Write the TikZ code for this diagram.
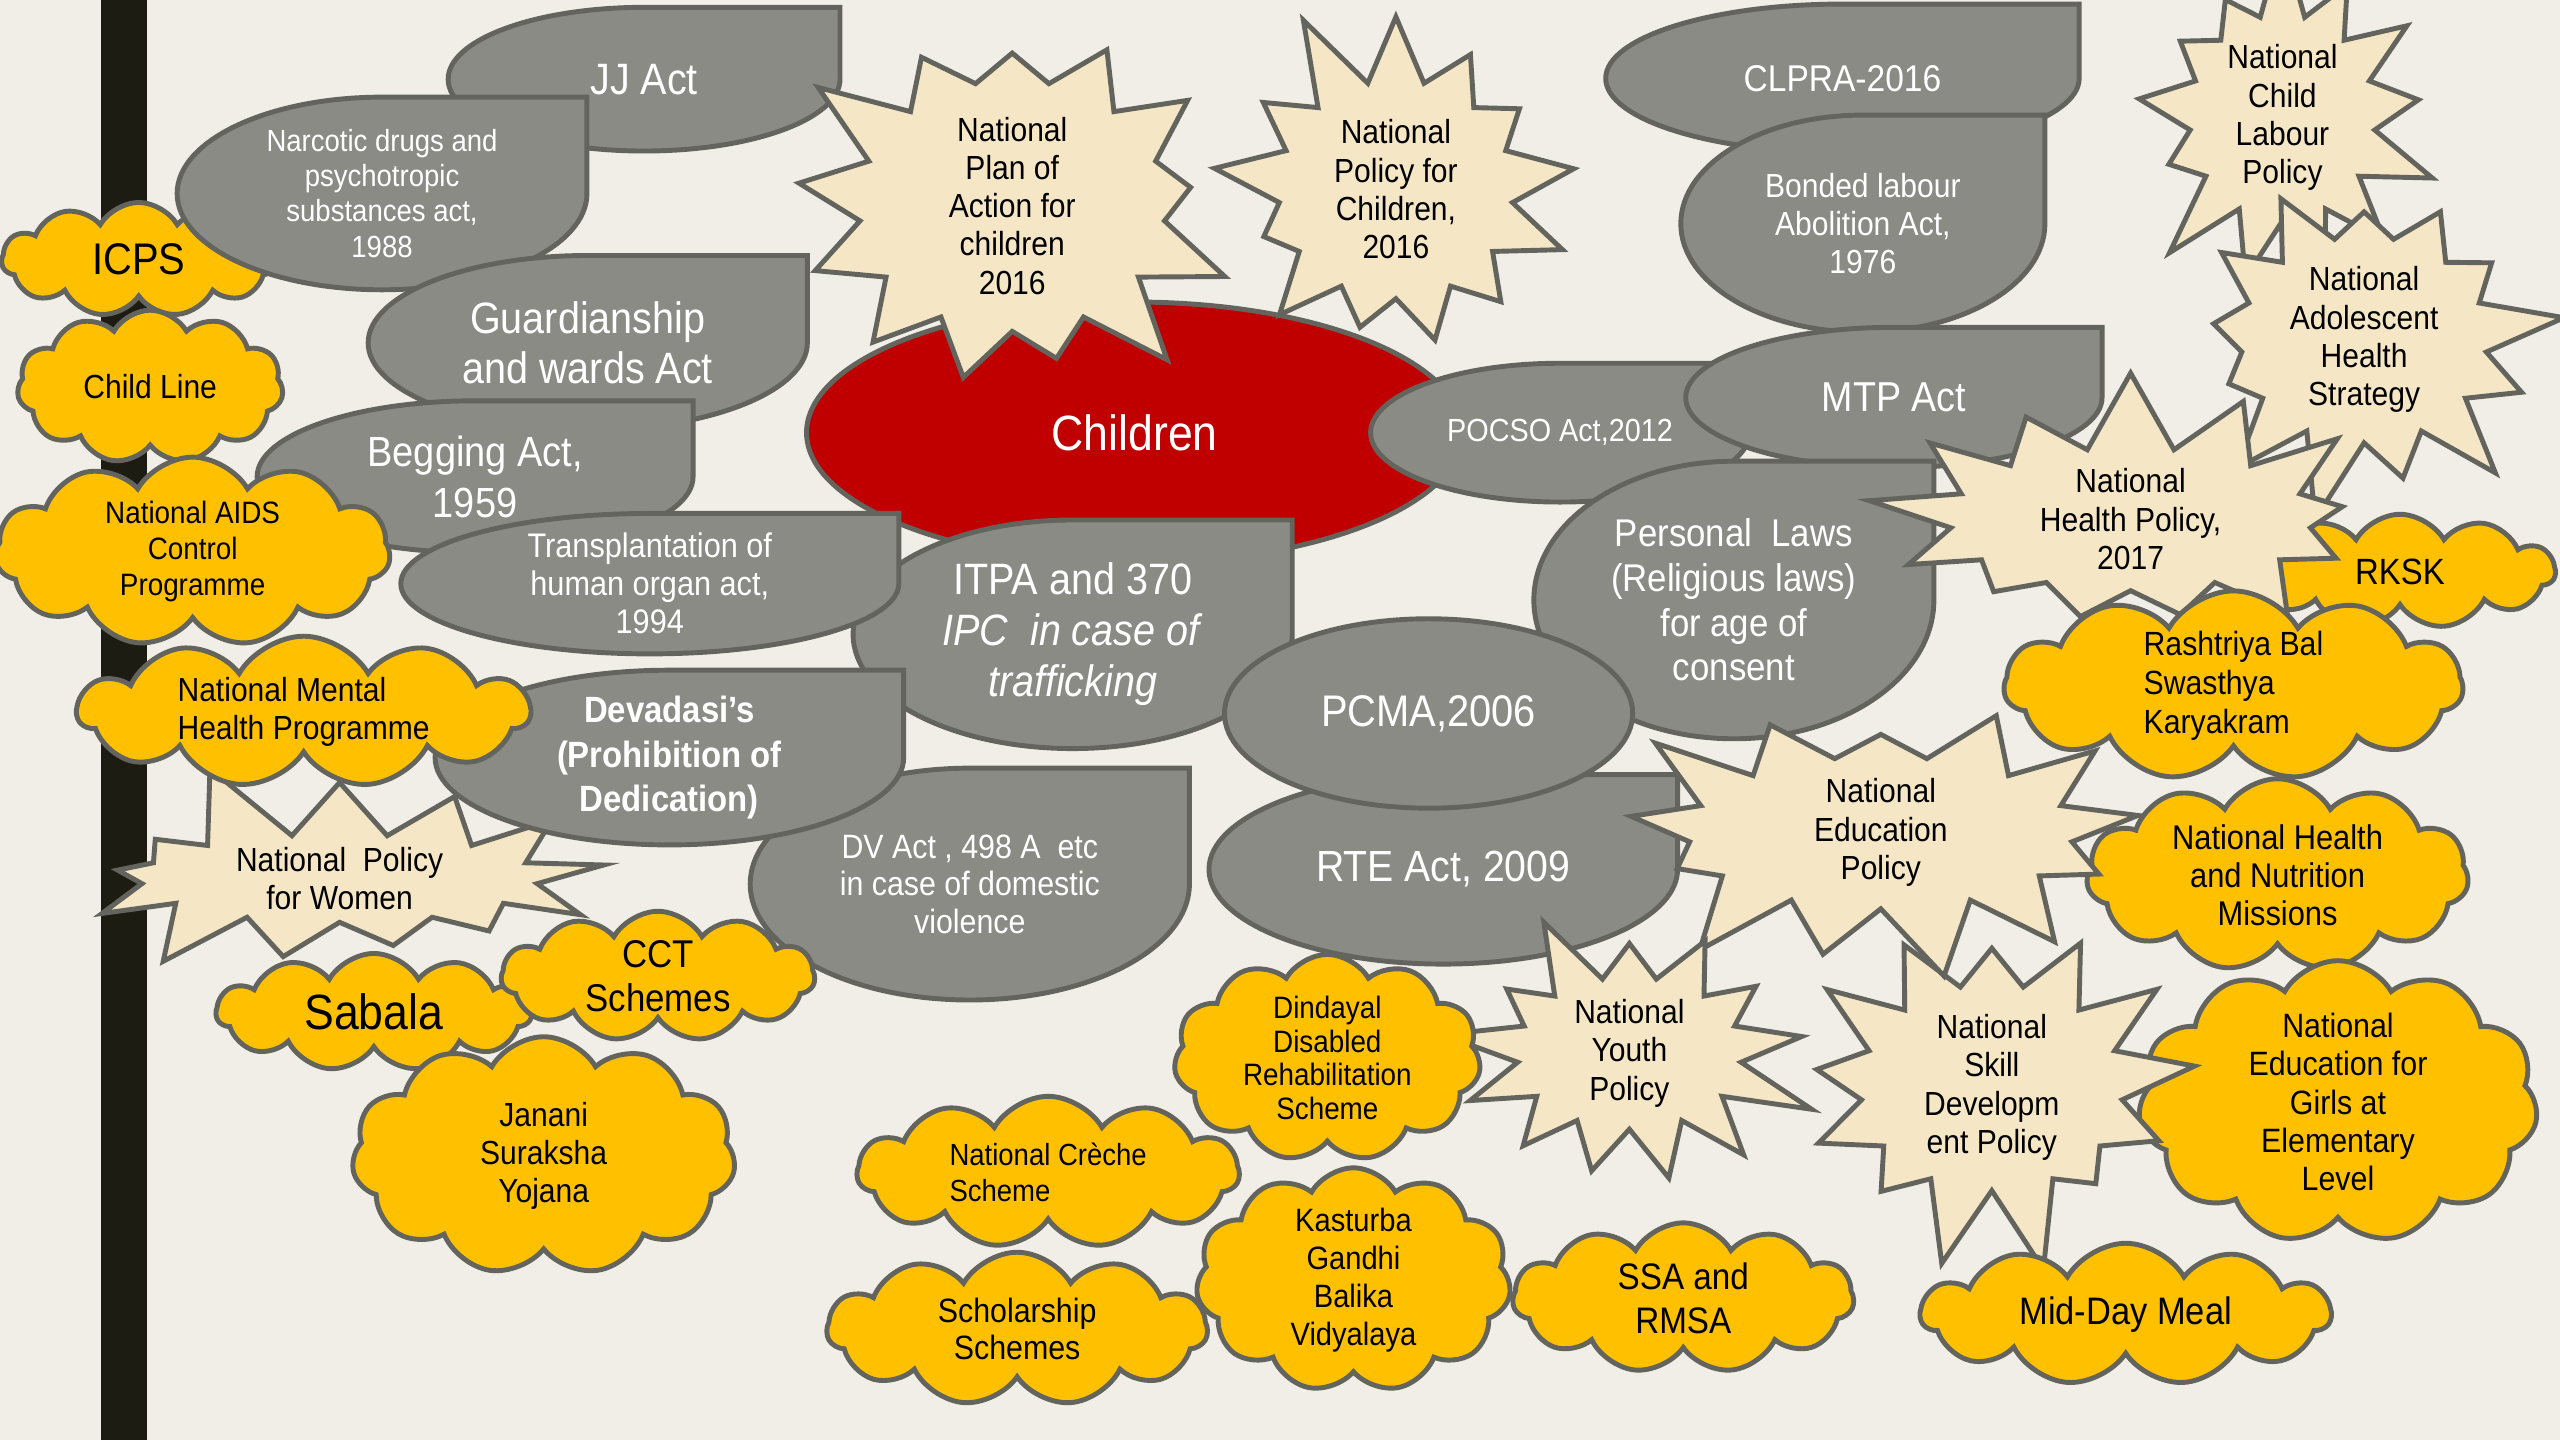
\documentclass[tikz,border=0pt]{standalone}
\usepackage{fontspec}
\setmainfont{Liberation Sans}[FakeStretch=0.9]
\usetikzlibrary{shapes.symbols, shapes.geometric}

\definecolor{bgpaper}{RGB}{240,238,230}
\definecolor{actgray}{RGB}{138,139,133}
\definecolor{rimgray}{RGB}{99,100,94}
\definecolor{schemeyellow}{RGB}{255,192,0}
\definecolor{policycream}{RGB}{245,231,197}
\definecolor{childred}{RGB}{192,0,0}
\definecolor{barblack}{RGB}{28,28,18}

\def\unitpx{0.0163265cm}

% act shape: ellipse with a square top right corner
\makeatletter
\pgfdeclareshape{teardrop}{%
  \inheritsavedanchors[from=rectangle]%
  \inheritanchorborder[from=rectangle]%
  \inheritanchor[from=rectangle]{center}%
  \inheritanchor[from=rectangle]{north}%
  \inheritanchor[from=rectangle]{south}%
  \inheritanchor[from=rectangle]{east}%
  \inheritanchor[from=rectangle]{west}%
  \backgroundpath{%
    \southwest \pgf@xa=\pgf@x \pgf@ya=\pgf@y
    \northeast \pgf@xb=\pgf@x \pgf@yb=\pgf@y
    \pgf@xc=.5\pgf@xa \advance\pgf@xc by .5\pgf@xb
    \pgf@yc=.5\pgf@ya \advance\pgf@yc by .5\pgf@yb
    \edef\tdmidx{\the\pgf@xc}\edef\tdmidy{\the\pgf@yc}%
    \edef\tdright{\the\pgf@xb}\edef\tdtop{\the\pgf@yb}%
    \advance\pgf@xb by -\pgf@xc \advance\pgf@yb by -\pgf@yc
    \edef\tdrx{\the\pgf@xb}\edef\tdry{\the\pgf@yb}%
    \pgfpathmoveto{\pgfqpoint{\tdmidx}{\tdtop}}%
    \pgfpathlineto{\pgfqpoint{\tdright}{\tdtop}}%
    \pgfpathlineto{\pgfqpoint{\tdright}{\tdmidy}}%
    \pgfpatharc{0}{-270}{\tdrx and \tdry}%
    \pgfpathclose
  }%
}
\makeatother

\tikzset{
  sz/.code 2 args={\pgfmathsetlengthmacro\szw{#1*\unitpx}\pgfmathsetlengthmacro\szh{#2*\unitpx}%
    \edef\sznext{\noexpand\pgfkeysalso{minimum width=\szw, minimum height=\szh}}\sznext},
  fs/.style 2 args={font=\fontsize{#1}{#2}\selectfont},
  rim/.style={draw=rimgray, line width=1.4pt},
  act/.style={shape=teardrop, rim, fill=actgray, text=white, inner sep=0pt, align=center, fs={9.5}{10.9}},
  scheme/.style={cloud, cloud puffs=11, cloud puff arc=120, cloud ignores aspect, rim, fill=schemeyellow, inner sep=0pt, align=center, fs={9.5}{10.9}},
  policy/.style={starburst, starburst points=13, starburst point height=0.85cm, random starburst=#1, rim, fill=policycream, inner sep=0pt, align=center, fs={9.5}{10.9}}
}

\begin{document}
\begin{tikzpicture}[x=\unitpx, y=\unitpx]
  % paper and left bar
  \fill[bgpaper] (0,0) rectangle (1568,-882);
  \useasboundingbox (0,0) rectangle (1568,-882);
  \fill[barblack] (62,0) rectangle (90,-882);
  % acts and schemes, top left
  \node[act, sz={237}{85}, fs={12.5}{15}] (jj) at (394.5,-48.5) {JJ Act};
  \node[act, sz={287}{88}, fs={10.6}{13}] (clpra) at (1128.5,-48) {CLPRA-2016};
  \node[scheme, sz={168}{70}, fs={12.6}{15}] (icps) at (85,-159) {ICPS};
  \node[act, sz={248}{115}, fs={8.7}{10}] (ndps) at (234,-118.5) {Narcotic drugs and\\psychotropic\\substances act,\\1988};
  \node[act, sz={266}{104}, fs={12.5}{14.4}] (guardian) at (360,-210) {Guardianship\\and wards Act};
  \node[scheme, sz={163}{94}] (childline) at (92,-237) {Child Line};
  \node[act, sz={264}{90}, fs={12}{14.4}] (begging) at (291,-292) {Begging Act,\\1959};
  \node[scheme, sz={242}{116}, fs={8.8}{10.2}] (aids) at (118,-338) {National AIDS\\Control\\Programme};
  % children in the middle
  \node[ellipse, rim, fill=childred, text=white, inner sep=0pt, sz={402}{160}, fs={14.1}{17}] (children) at (695,-265) {Children};
  \node[policy=3, sz={292}{222}] (npac) at (620,-126) {National\\Plan of\\Action for\\children\\2016};
  \node[policy=11, sz={248}{238}] (npc) at (855,-116) {National\\Policy for\\Children,\\2016};
  % acts and schemes, lower left
  \node[act, sz={266}{137}, fs={12.5}{14.6}] (itpa) at (657,-388.5) {ITPA and 370\\\textit{IPC\ \ in case of}\\\textit{trafficking}};
  \node[act, sz={302}{83}, fs={9.7}{10.8}] (organ) at (398,-357.5) {Transplantation of\\human organ act,\\1994};
  \node[act, sz={266}{139}, fs={9.6}{10.7}] (dv) at (594,-541.5) {DV Act , 498 A\ \ etc\\in case of domestic\\violence};
  \node[policy=5, sz={348}{128}, fs={9.5}{10.7}] (npw) at (208,-538) {National\ \ Policy\\for Women};
  \node[act, sz={284}{104}, font=\fontsize{10.4}{12.8}\selectfont\bfseries] (devadasi) at (410,-464) {Devadasi’s\\(Prohibition of\\Dedication)};
  \node[scheme, sz={277}{91}, fs={9.5}{10.7}, align=left] (nmhp) at (186,-436) {National Mental\\Health Programme};
  \node[scheme, sz={193}{72}, fs={14.1}{17}] (sabala) at (229,-620) {Sabala};
  \node[scheme, sz={192}{72}, fs={11}{12.5}] (cct) at (403,-598) {CCT\\Schemes};
  \node[scheme, sz={235}{146}] (jsy) at (333,-708) {Janani\\Suraksha\\Yojana};
  % acts, top right
  \node[act, sz={229}{82}, fs={9.1}{11}] (pocso) at (955.5,-265) {POCSO Act,2012};
  \node[act, sz={220}{130}] (bonded) at (1141,-137) {Bonded labour\\Abolition Act,\\1976};
  \node[act, sz={252}{83}, fs={11.9}{14}] (mtp) at (1160,-243.5) {MTP Act};
  \node[act, sz={242}{167}, fs={11}{12.7}] (personal) at (1062,-367.5) {Personal\ \ Laws\\(Religious laws)\\for age of\\consent};
  \node[act, sz={284}{113}, fs={12.4}{15}] (rte) at (884,-532.5) {RTE Act, 2009};
  \node[ellipse, rim, fill=actgray, text=white, inner sep=0pt, sz={250}{116}, fs={12.6}{15}] (pcma) at (875,-437) {PCMA,2006};
  % policies and schemes, right
  \node[policy=7, sz={218}{190}] (nclp) at (1398,-72) {National\\Child\\Labour\\Policy};
  \node[policy=13, sz={255}{175}] (nahs) at (1448,-208) {National\\Adolescent\\Health\\Strategy};
  \node[scheme, sz={190}{70}, fs={10.4}{12}] (rksk) at (1470,-350) {RKSK};
  \node[policy=17, sz={326}{148}] (nhp) at (1305,-318) {National\\Health Policy,\\2017};
  \node[scheme, sz={281}{98}, fs={9.55}{11.1}, align=left] (rbsk) at (1368,-420) {Rashtriya Bal\\Swasthya\\Karyakram};
  \node[scheme, sz={234}{118}, fs={9.75}{10.9}] (nhnm) at (1395,-536) {National Health\\and Nutrition\\Missions};
  \node[scheme, sz={245}{139}, fs={9.6}{10.9}] (negel) at (1432,-675) {National\\Education for\\Girls at\\Elementary\\Level};
  \node[policy=19, sz={265}{215}] (nsdp) at (1220,-666) {National\\Skill\\Developm\\ent Policy};
  \node[policy=23, sz={340}{182}] (nep) at (1152,-510) {National\\Education\\Policy};
  \node[policy=29, sz={242}{162}] (nyp) at (998,-645) {National\\Youth\\Policy};
  % schemes, bottom
  \node[scheme, sz={188}{116}, fs={8.8}{9.6}] (ddrs) at (813,-648) {Dindayal\\Disabled\\Rehabilitation\\Scheme};
  \node[scheme, sz={234}{93}, fs={8.7}{10.2}, align=left] (creche) at (642,-718) {National Crèche\\Scheme};
  \node[scheme, sz={233}{94}, fs={9.6}{10.7}] (scholar) at (623,-814) {Scholarship\\Schemes};
  \node[scheme, sz={193}{129}, fs={9.2}{10.8}] (kgbv) at (829,-784) {Kasturba\\Gandhi\\Balika\\Vidyalaya};
  \node[scheme, sz={209}{92}, fs={10.5}{12.5}] (ssa) at (1031,-795) {SSA and\\RMSA};
  \node[scheme, sz={251}{87}, fs={10.9}{13}] (mdm) at (1302,-805) {Mid-Day Meal};
\end{tikzpicture}
\end{document}
